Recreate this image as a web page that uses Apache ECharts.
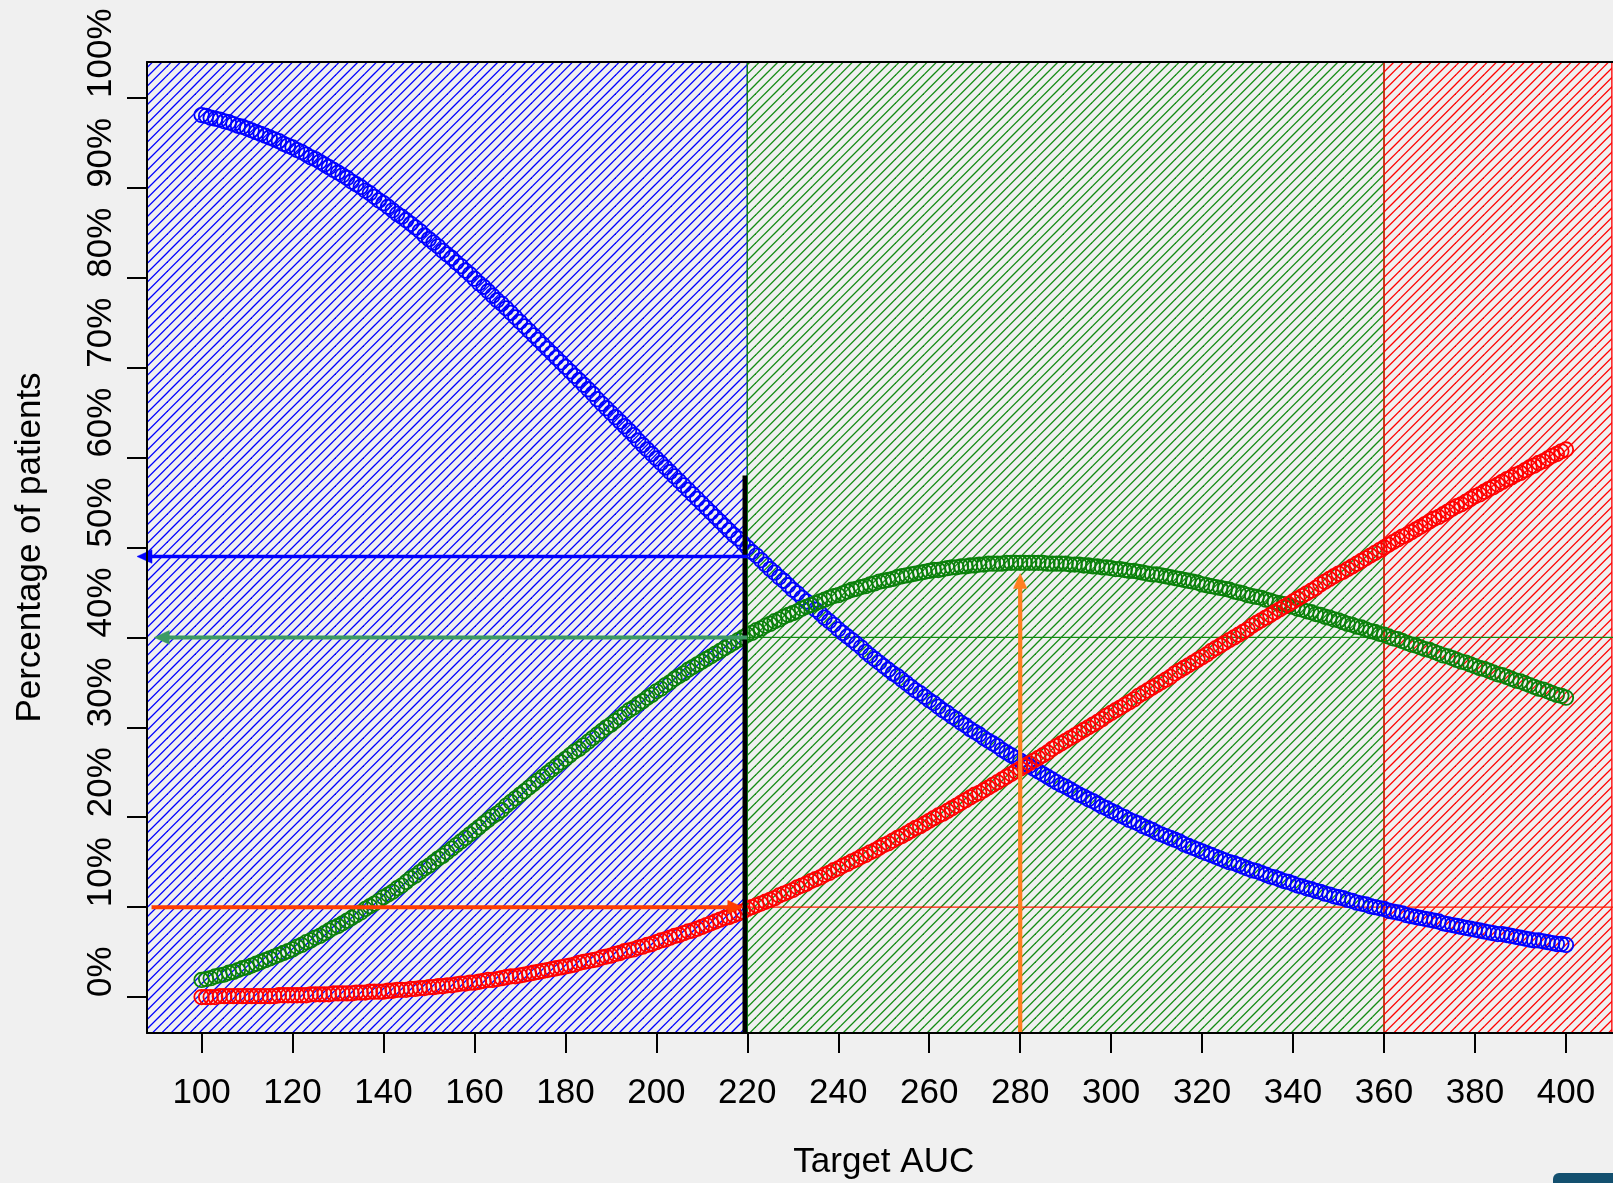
<!DOCTYPE html>
<html><head><meta charset="utf-8">
<style>html,body{margin:0;padding:0;background:#f0f0f0;}#chart{width:1613px;height:1183px;}</style>
<script src="https://cdn.jsdelivr.net/npm/echarts@6/dist/echarts.min.js"></script>
</head><body><div id="chart"></div>
<script>
// Target AUC sampling grid (every unit from 100 to 400)
const targetAUC = [];
for (let v = 100; v <= 400; v += 1) targetAUC.push(v);

// % of patients below target range (blue)
const pctBelow = [
98.1,98.0,97.8,97.7,97.6,97.4,97.3,97.1,96.9,96.8,
96.6,96.4,96.2,96.0,95.8,95.6,95.4,95.2,94.9,94.7,
94.5,94.2,94.0,93.7,93.4,93.2,92.9,92.6,92.3,92.0,
91.7,91.4,91.1,90.7,90.4,90.1,89.7,89.4,89.0,88.6,
88.3,87.9,87.5,87.1,86.8,86.4,86.0,85.6,85.2,84.7,
84.3,83.9,83.5,83.0,82.6,82.2,81.7,81.3,80.8,80.4,
79.9,79.4,79.0,78.5,78.0,77.5,77.1,76.6,76.1,75.6,
75.1,74.6,74.1,73.6,73.1,72.6,72.1,71.6,71.1,70.6,
70.1,69.6,69.1,68.6,68.1,67.6,67.1,66.5,66.0,65.5,
65.0,64.5,64.0,63.5,63.0,62.5,61.9,61.4,60.9,60.4,
59.9,59.4,58.9,58.4,57.9,57.4,56.9,56.4,55.9,55.4,
54.9,54.4,53.9,53.4,52.9,52.4,51.9,51.4,51.0,50.5,
50.0,49.5,49.1,48.6,48.1,47.6,47.2,46.7,46.3,45.8,
45.3,44.9,44.4,44.0,43.6,43.1,42.7,42.2,41.8,41.4,
40.9,40.5,40.1,39.7,39.3,38.9,38.4,38.0,37.6,37.2,
36.8,36.4,36.0,35.7,35.3,34.9,34.5,34.1,33.8,33.4,
33.0,32.7,32.3,31.9,31.6,31.2,30.9,30.5,30.2,29.8,
29.5,29.2,28.8,28.5,28.2,27.9,27.5,27.2,26.9,26.6,
26.3,26.0,25.7,25.4,25.1,24.8,24.5,24.2,23.9,23.6,
23.4,23.1,22.8,22.5,22.3,22.0,21.8,21.5,21.2,21.0,
20.7,20.5,20.2,20.0,19.7,19.5,19.3,19.0,18.8,18.6,
18.3,18.1,17.9,17.7,17.5,17.3,17.0,16.8,16.6,16.4,
16.2,16.0,15.8,15.6,15.4,15.2,15.0,14.9,14.7,14.5,
14.3,14.1,14.0,13.8,13.6,13.4,13.3,13.1,12.9,12.8,
12.6,12.4,12.3,12.1,12.0,11.8,11.7,11.5,11.4,11.2,
11.1,11.0,10.8,10.7,10.5,10.4,10.3,10.1,10.0,9.9,
9.8,9.6,9.5,9.4,9.3,9.1,9.0,8.9,8.8,8.7,
8.6,8.5,8.4,8.2,8.1,8.0,7.9,7.8,7.7,7.6,
7.5,7.4,7.3,7.2,7.1,7.0,7.0,6.9,6.8,6.7,
6.6,6.5,6.4,6.3,6.3,6.2,6.1,6.0,5.9,5.9,
5.8];

// % of patients within target range (green)
const pctWithin = [
1.9,2.0,2.1,2.3,2.4,2.5,2.7,2.8,3.0,3.2,
3.3,3.5,3.7,3.9,4.1,4.3,4.5,4.7,4.9,5.1,
5.3,5.6,5.8,6.1,6.3,6.6,6.8,7.1,7.4,7.7,
7.9,8.2,8.5,8.8,9.1,9.4,9.8,10.1,10.4,10.7,
11.1,11.4,11.7,12.1,12.4,12.8,13.2,13.5,13.9,14.3,
14.6,15.0,15.4,15.7,16.1,16.5,16.9,17.3,17.7,18.1,
18.5,18.9,19.3,19.7,20.1,20.4,20.8,21.3,21.7,22.1,
22.5,22.9,23.3,23.7,24.1,24.5,24.9,25.3,25.7,26.1,
26.5,26.9,27.3,27.6,28.0,28.4,28.8,29.2,29.6,30.0,
30.3,30.7,31.1,31.5,31.9,32.2,32.6,32.9,33.3,33.6,
34.0,34.3,34.7,35.0,35.4,35.7,36.0,36.4,36.7,37.0,
37.3,37.6,37.9,38.2,38.5,38.8,39.1,39.4,39.7,40.0,
40.3,40.5,40.8,41.0,41.3,41.5,41.8,42.0,42.3,42.5,
42.7,42.9,43.2,43.4,43.6,43.8,44.0,44.2,44.4,44.6,
44.7,44.9,45.1,45.3,45.4,45.6,45.7,45.9,46.0,46.2,
46.3,46.4,46.5,46.7,46.8,46.9,47.0,47.1,47.2,47.3,
47.4,47.5,47.5,47.6,47.7,47.8,47.8,47.9,47.9,48.0,
48.0,48.1,48.1,48.2,48.2,48.2,48.2,48.3,48.3,48.3,
48.3,48.3,48.3,48.3,48.3,48.3,48.2,48.2,48.2,48.2,
48.2,48.1,48.1,48.1,48.0,48.0,47.9,47.9,47.8,47.8,
47.7,47.6,47.6,47.5,47.4,47.4,47.3,47.2,47.1,47.0,
47.0,46.9,46.8,46.7,46.6,46.5,46.4,46.3,46.2,46.1,
45.9,45.8,45.7,45.6,45.5,45.4,45.3,45.1,45.0,44.9,
44.7,44.6,44.5,44.4,44.2,44.1,43.9,43.8,43.7,43.5,
43.4,43.2,43.1,42.9,42.8,42.6,42.5,42.3,42.2,42.0,
41.9,41.7,41.5,41.4,41.2,41.1,40.9,40.7,40.6,40.4,
40.3,40.1,39.9,39.8,39.6,39.4,39.2,39.1,38.9,38.7,
38.6,38.4,38.2,38.0,37.9,37.7,37.5,37.3,37.2,37.0,
36.8,36.6,36.5,36.3,36.1,35.9,35.8,35.6,35.4,35.2,
35.1,34.9,34.7,34.5,34.3,34.2,34.0,33.8,33.6,33.5,
33.3];

// % of patients above target range (red)
const pctAbove = [
0.0,0.0,0.0,0.0,0.1,0.1,0.1,0.1,0.1,0.1,
0.1,0.1,0.1,0.1,0.1,0.1,0.1,0.2,0.2,0.2,
0.2,0.2,0.2,0.2,0.3,0.3,0.3,0.3,0.3,0.4,
0.4,0.4,0.4,0.4,0.5,0.5,0.5,0.6,0.6,0.6,
0.6,0.7,0.7,0.8,0.8,0.8,0.9,0.9,1.0,1.0,
1.1,1.1,1.2,1.2,1.3,1.3,1.4,1.5,1.5,1.6,
1.6,1.7,1.8,1.9,1.9,2.0,2.1,2.2,2.3,2.3,
2.4,2.5,2.6,2.7,2.8,2.9,3.0,3.1,3.2,3.3,
3.4,3.5,3.6,3.8,3.9,4.0,4.1,4.2,4.4,4.5,
4.6,4.8,4.9,5.1,5.2,5.3,5.5,5.6,5.8,5.9,
6.1,6.3,6.4,6.6,6.8,6.9,7.1,7.3,7.4,7.6,
7.8,8.0,8.2,8.4,8.6,8.8,8.9,9.1,9.3,9.5,
9.8,10.0,10.2,10.4,10.6,10.8,11.0,11.3,11.5,11.7,
11.9,12.2,12.4,12.6,12.9,13.1,13.3,13.6,13.8,14.1,
14.3,14.6,14.8,15.1,15.3,15.6,15.8,16.1,16.3,16.6,
16.9,17.1,17.4,17.7,17.9,18.2,18.5,18.8,19.0,19.3,
19.6,19.9,20.2,20.4,20.7,21.0,21.3,21.6,21.9,22.2,
22.5,22.7,23.0,23.3,23.6,23.9,24.2,24.5,24.8,25.1,
25.4,25.7,26.0,26.3,26.6,26.9,27.2,27.6,27.9,28.2,
28.5,28.8,29.1,29.4,29.7,30.0,30.3,30.6,30.9,31.3,
31.6,31.9,32.2,32.5,32.8,33.1,33.5,33.8,34.1,34.4,
34.7,35.0,35.3,35.6,36.0,36.3,36.6,36.9,37.2,37.5,
37.8,38.1,38.5,38.8,39.1,39.4,39.7,40.0,40.3,40.6,
40.9,41.3,41.6,41.9,42.2,42.5,42.8,43.1,43.4,43.7,
44.0,44.3,44.6,44.9,45.2,45.5,45.9,46.2,46.5,46.8,
47.1,47.3,47.6,47.9,48.2,48.5,48.8,49.1,49.4,49.7,
50.0,50.3,50.6,50.9,51.2,51.4,51.7,52.0,52.3,52.6,
52.9,53.2,53.4,53.7,54.0,54.3,54.6,54.8,55.1,55.4,
55.7,55.9,56.2,56.5,56.7,57.0,57.3,57.6,57.8,58.1,
58.3,58.6,58.9,59.1,59.4,59.6,59.9,60.2,60.4,60.7,
60.9];

const xTickValues = [100,120,140,160,180,200,220,240,260,280,300,320,340,360,380,400];
const yTickValues = [0,10,20,30,40,50,60,70,80,90,100];

// Shaded zones (Target AUC bounds)
const zoneBounds = [[88,220],[220,360],[360,410.1]];
// Arrows: [x0, y0, x1, y1] in data units
const arrowSegments = [[220,49,85.8,49],[220,40,89.6,40],[89,10,219,10],[280,-4,280,47.1]];
// Plain segments: cutoff line and reference lines
const cutoffSegments = [[219.45,-4,219.45,58]];
const refSegments = [[220,40,412,40],[220,10,412,10]];

const X_MIN = 88, X_MAX = 412, Y_MIN = -4, Y_MAX = 104;

// ---- styles ----
const zoneColors = ['#0000ff', '#138a13', '#ff0000'];
const arrowColors = ['#0000ff', '#3c9a64', '#ff3d00', '#ff7f20'];
const arrowWidths = [3.6, 4, 4, 4.2];
const refColors = ['#138a13', '#ff1a00'];
const FONT = '"Liberation Sans", Arial, sans-serif';

function hatch(color) {
  const s = 28;
  const c = document.createElement('canvas');
  c.width = s; c.height = s;
  const ctx = c.getContext('2d');
  ctx.strokeStyle = color;
  ctx.lineWidth = 1.3;
  for (let k = -1; k <= 7; k++) {
    const d = k * s / 3;
    ctx.beginPath();
    ctx.moveTo(d + 2, -2);
    ctx.lineTo(d - s - 2, s + 2);
    ctx.stroke();
  }
  return { image: c, repeat: 'repeat' };
}
const zonePatterns = zoneColors.map(hatch);

function segRender(colors, widths, withHead) {
  return function (params, api) {
    const i = params.dataIndex;
    const p0 = api.coord([api.value(0), api.value(1)]);
    const p1 = api.coord([api.value(2), api.value(3)]);
    const dx = p1[0] - p0[0], dy = p1[1] - p0[1];
    const L = Math.hypot(dx, dy) || 1;
    const ux = dx / L, uy = dy / L;
    const color = colors[i % colors.length];
    const w = widths[i % widths.length];
    const children = [];
    const hl = 15, hw = 6.8;
    const end = withHead ? [p1[0] - ux * hl * 0.7, p1[1] - uy * hl * 0.7] : p1;
    children.push({ type: 'line', shape: { x1: p0[0], y1: p0[1], x2: end[0], y2: end[1] },
      style: { stroke: color, lineWidth: w, lineCap: 'butt' } });
    if (withHead) {
      const bx = p1[0] - ux * hl, by = p1[1] - uy * hl;
      children.push({ type: 'polygon', shape: { points: [
        [p1[0], p1[1]], [bx - uy * hw, by + ux * hw], [bx + uy * hw, by - ux * hw]] },
        style: { fill: color, stroke: color, lineWidth: 0.5 } });
    }
    return { type: 'group', children };
  };
}

function scatterSeries(name, values, color, z) {
  return {
    name, type: 'scatter', z,
    data: targetAUC.map((x, i) => [x, values[i]]),
    symbol: 'circle', symbolSize: 14.5,
    itemStyle: { color: 'rgba(0,0,0,0)', borderColor: color, borderWidth: 1.8, opacity: 1 },
    emphasis: { disabled: true }, silent: true, large: false
  };
}

const chart = echarts.init(document.getElementById('chart'), null, { renderer: 'canvas' });
chart.setOption({
  animation: false,
  backgroundColor: '#f0f0f0',
  grid: { left: 147, top: 62, width: 1473.5, height: 971, containLabel: false, outerBoundsMode: 'none', show: false },
  xAxis: [{
    type: 'value', min: X_MIN, max: X_MAX, position: 'bottom', z: 10,
    axisLine: { show: true, onZero: false, lineStyle: { color: '#000', width: 2 } },
    axisTick: { show: true, customValues: xTickValues, length: 20, lineStyle: { color: '#000', width: 2 } },
    axisLabel: { customValues: xTickValues, margin: 43, fontSize: 35, color: '#000', fontFamily: FONT },
    splitLine: { show: false },
    name: 'Target AUC', nameLocation: 'middle', nameGap: 112,
    nameTextStyle: { fontSize: 35, color: '#000', fontFamily: FONT }
  }, {
    type: 'value', min: X_MIN, max: X_MAX, position: 'top', z: 10,
    axisLine: { show: true, onZero: false, lineStyle: { color: '#000', width: 2 } },
    axisTick: { show: false }, axisLabel: { show: false }, splitLine: { show: false }
  }],
  yAxis: [{
    type: 'value', min: Y_MIN, max: Y_MAX, z: 10,
    axisLine: { show: true, onZero: false, lineStyle: { color: '#000', width: 2 } },
    axisTick: { show: true, customValues: yTickValues, length: 20, lineStyle: { color: '#000', width: 2 } },
    axisLabel: { customValues: yTickValues, formatter: v => v + '%', rotate: 90, align: 'left',
      margin: 28, fontSize: 35, color: '#000', fontFamily: FONT },
    splitLine: { show: false },
    name: 'Percentage of patients', nameLocation: 'middle', nameRotate: 90, nameGap: 99,
    nameTextStyle: { fontSize: 35, color: '#000', fontFamily: FONT }
  }],
  series: [
    {
      type: 'custom', name: 'zones', z: 1, silent: true, clip: true,
      data: zoneBounds,
      encode: { x: [0, 1] },
      renderItem: function (params, api) {
        const i = params.dataIndex;
        const a = api.coord([api.value(0), Y_MAX]);
        const b = api.coord([api.value(1), Y_MIN]);
        return { type: 'rect', shape: { x: a[0], y: a[1], width: b[0] - a[0], height: b[1] - a[1] },
          style: { fill: zonePatterns[i], stroke: zoneColors[i], lineWidth: 1.3 } };
      }
    },
    {
      type: 'custom', name: 'ref', z: 3, silent: true, clip: true,
      data: refSegments, encode: { x: [0, 2], y: [1, 3] },
      renderItem: segRender(refColors, [1.3], false)
    },
    scatterSeries('Below', pctBelow, '#0000ff', 4),
    scatterSeries('Within', pctWithin, '#0a800a', 5),
    scatterSeries('Above', pctAbove, '#ff0000', 6),
    {
      type: 'custom', name: 'cutoff', z: 7, silent: true,
      data: cutoffSegments, encode: { x: [0, 2], y: [1, 3] },
      renderItem: segRender(['#000000'], [4.6], false)
    },
    {
      type: 'custom', name: 'arrows', z: 8, silent: true,
      data: arrowSegments, encode: { x: [0, 2], y: [1, 3] },
      renderItem: segRender(arrowColors, arrowWidths, true)
    }
  ],
  graphic: [{
    type: 'rect', left: 1553, top: 1173, shape: { width: 70, height: 24, r: 6 },
    style: { fill: '#13506f' }, z: 100
  }]
});
</script></body></html>
